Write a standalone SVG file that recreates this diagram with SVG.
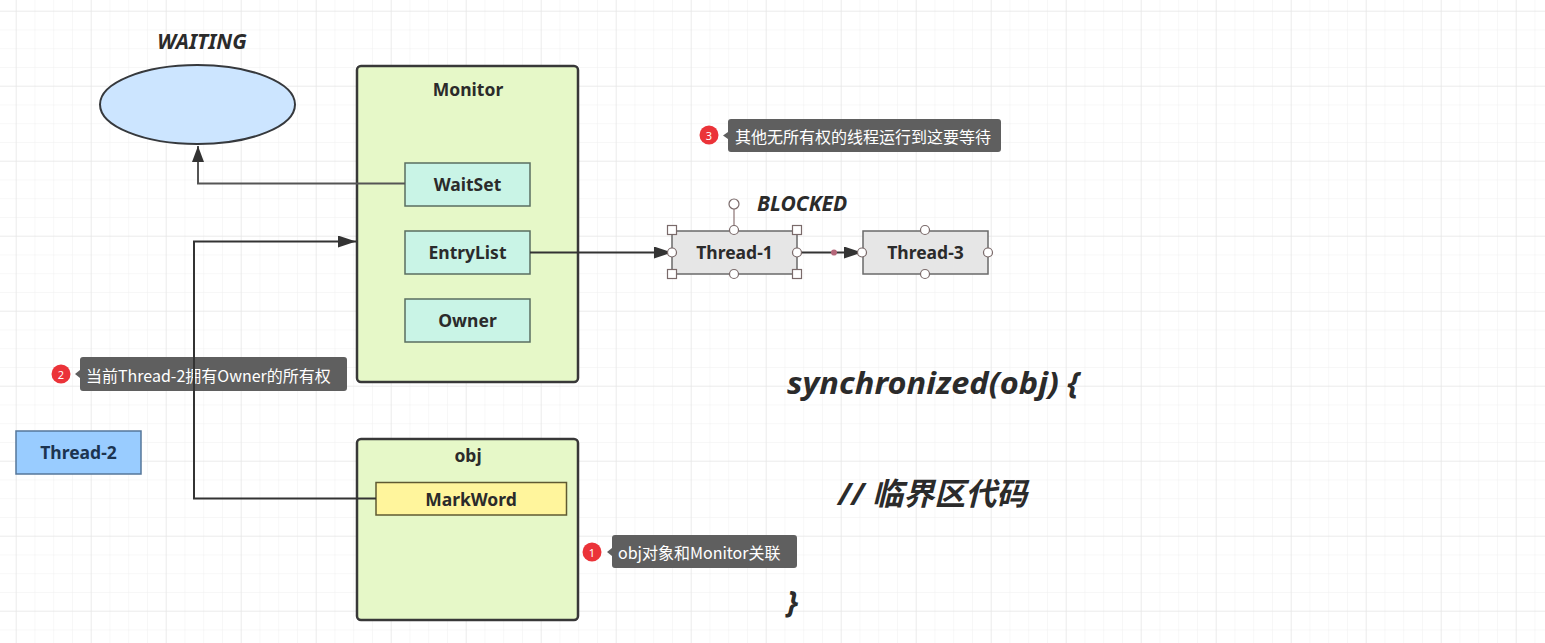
<svg xmlns="http://www.w3.org/2000/svg" width="1545" height="643" viewBox="0 0 1545 643">
<defs>
  <pattern id="minor" x="15.7" y="10.7" width="18.75" height="18.75" patternUnits="userSpaceOnUse">
    <path d="M0 0H18.75M0 0V18.75" fill="none" stroke="#f0f0f0" stroke-width="1"/>
  </pattern>
  <pattern id="major" x="15.7" y="10.7" width="75" height="75" patternUnits="userSpaceOnUse">
    <path d="M0 0H75M0 0V75" fill="none" stroke="#e2e2e2" stroke-width="1"/>
  </pattern>
  <marker id="arrThin" viewBox="0 0 16 12" refX="16" refY="6" markerWidth="16" markerHeight="12" markerUnits="userSpaceOnUse" orient="auto">
    <path d="M0 0L16 6L0 12Z" fill="#333"/>
  </marker>
  <marker id="arrBig" viewBox="0 0 18 12" refX="18" refY="6" markerWidth="18" markerHeight="12" markerUnits="userSpaceOnUse" orient="auto">
    <path d="M0 0L18 6L0 12Z" fill="#333"/>
  </marker>
</defs>
<style>
  .lbl{font-family:"Noto Sans","Noto Sans CJK SC",sans-serif;font-weight:bold;font-size:17.5px;fill:#2b2b2b;text-anchor:middle;dominant-baseline:central}
  .container{fill:#e6f8c8;stroke:#383838;stroke-width:2.5}
  .inner{fill:#c9f4e6;stroke:#5a6e60;stroke-width:1.5}
  .thread{fill:#e6e6e6;stroke:#6a6a6a;stroke-width:1.5}
  .state{font-family:"Noto Sans",sans-serif;font-weight:bold;font-style:italic;font-size:21px;fill:#2b2b2b}
  .code{font-family:"Noto Sans","Noto Sans CJK SC",sans-serif;font-weight:bold;font-style:italic;font-size:31px;fill:#2b2b2b}
  .tip{fill:#5f5f5f}
  .tiptxt{font-family:"Noto Sans CJK SC","Noto Sans",sans-serif;font-size:16px;fill:#ffffff;dominant-baseline:central}
  .badge{fill:#eb3339}
  .badgetxt{font-family:"Noto Sans",sans-serif;font-size:11px;fill:#fff;text-anchor:middle;dominant-baseline:central}
  .handle{fill:#fff;stroke:#7a6a6a;stroke-width:1.2}
  .conn{fill:none;stroke:#333;stroke-width:2}
</style>
<rect width="1545" height="643" fill="#ffffff"/>
<rect width="1545" height="643" fill="url(#minor)"/>
<rect width="1545" height="643" fill="url(#major)"/>

<g id="waiting">
  <text class="state" x="202" y="49" text-anchor="middle">WAITING</text>
  <ellipse cx="197.5" cy="104.5" rx="97.5" ry="39.5" fill="#cce5ff" stroke="#36393d" stroke-width="2"/>
</g>

<g id="monitor">
  <rect class="container" x="357" y="66" width="221" height="316" rx="4"/>
  <text class="lbl" x="468" y="89">Monitor</text>
</g>
<g id="waitset">
  <rect class="inner" x="405" y="163" width="125" height="43"/>
  <text class="lbl" x="467.5" y="184">WaitSet</text>
</g>
<g id="entrylist">
  <rect class="inner" x="405" y="231" width="125" height="43"/>
  <text class="lbl" x="467.5" y="252">EntryList</text>
</g>
<g id="owner">
  <rect class="inner" x="405" y="299" width="125" height="43"/>
  <text class="lbl" x="467.5" y="320">Owner</text>
</g>

<g id="obj">
  <rect class="container" x="357" y="439" width="221" height="181" rx="4"/>
  <text class="lbl" x="468" y="455">obj</text>
</g>
<g id="markword">
  <rect x="376" y="482.5" width="190.5" height="32.5" fill="#fff59c" stroke="#5f5a32" stroke-width="1.5"/>
  <text class="lbl" x="471" y="498.5">MarkWord</text>
</g>

<g id="thread2">
  <rect x="16" y="431" width="125" height="43" fill="#99ccff" stroke="#56779a" stroke-width="1.5"/>
  <text class="lbl" x="78.5" y="452" style="fill:#1c3450">Thread-2</text>
</g>

<g id="blocked">
  <text class="state" x="757" y="211">BLOCKED</text>
</g>

<g id="thread1">
  <rect class="thread" x="672" y="231" width="125" height="43" stroke="#8b7373"/>
  <text class="lbl" x="734.5" y="252">Thread-1</text>
  <line x1="734" y1="209" x2="734" y2="226" stroke="#8b7373" stroke-width="1.2"/>
  <circle class="handle" cx="734" cy="204" r="5"/>
  <circle class="handle" cx="734" cy="230" r="4.5"/>
  <circle class="handle" cx="734" cy="274" r="4.5"/>
  <rect class="handle" x="667.5" y="225.5" width="9" height="9"/>
  <rect class="handle" x="792.5" y="225.5" width="9" height="9"/>
  <rect class="handle" x="667.5" y="269.5" width="9" height="9"/>
  <rect class="handle" x="792.5" y="269.5" width="9" height="9"/>
</g>

<g id="thread3">
  <rect class="thread" x="863" y="231" width="125" height="43"/>
  <text class="lbl" x="925.5" y="252">Thread-3</text>
  <circle class="handle" cx="925" cy="230" r="4.5" stroke="#666"/>
  <circle class="handle" cx="988" cy="252.5" r="4.5" stroke="#666"/>
  <circle class="handle" cx="925" cy="274" r="4.5" stroke="#666"/>
</g>

<g id="tip3">
  <circle class="badge" cx="709" cy="135" r="9.5"/>
  <text class="badgetxt" x="709" y="135.5">3</text>
  <path class="tip" d="M731 119H998Q1001 119 1001 122V149Q1001 152 998 152H731Q728 152 728 149V139L723 135.5L728 132V122Q728 119 731 119Z"/>
  <text class="tiptxt" x="735" y="136">其他无所有权的线程运行到这要等待</text>
</g>

<g id="tip2">
  <circle class="badge" cx="61" cy="374" r="9.5"/>
  <text class="badgetxt" x="61" y="374.5">2</text>
  <path class="tip" d="M83 357H344Q347 357 347 360V388Q347 391 344 391H83Q80 391 80 388V378L75 374L80 370V360Q80 357 83 357Z"/>
  <text class="tiptxt" x="86" y="374.5">当前Thread-2拥有Owner的所有权</text>
</g>

<g id="tip1">
  <circle class="badge" cx="592" cy="552" r="9.5"/>
  <text class="badgetxt" x="592" y="552.5">1</text>
  <path class="tip" d="M615 535H794Q797 535 797 538V565Q797 568 794 568H615Q612 568 612 565V556L607 552L612 548V538Q612 535 615 535Z"/>
  <text class="tiptxt" x="618" y="552">obj对象和Monitor关联</text>
</g>

<g id="code">
  <text class="code" x="787" y="394" textLength="292" lengthAdjust="spacingAndGlyphs">synchronized(obj) {</text>
  <text class="code" x="838" y="505">// 临界区代码</text>
  <text class="code" x="787" y="613">}</text>
</g>

<g id="connectors">
  <path class="conn" d="M405 183.5H198V146" stroke-width="1.5" style="stroke:#555" marker-end="url(#arrThin)"/>
  <path class="conn" d="M376 498.5H194V241.5H356" marker-end="url(#arrBig)"/>
  <path class="conn" d="M530 252.5H672" marker-end="url(#arrBig)"/>
  <path class="conn" d="M797 252.5H862" marker-end="url(#arrBig)"/>
  <circle cx="834" cy="252.5" r="3" fill="#b5677a"/>
  <circle class="handle" cx="672" cy="252.5" r="4.5"/>
  <circle class="handle" cx="797" cy="252.5" r="4.5"/>
  <circle class="handle" cx="862" cy="252.5" r="4.5" stroke="#666"/>
</g>
</svg>
